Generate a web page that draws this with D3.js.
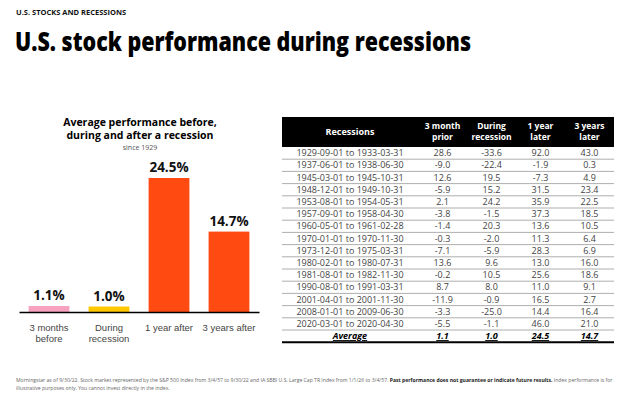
<!DOCTYPE html>
<html>
<head>
  <meta charset="utf-8">
  <title>U.S. stock performance during recessions</title>
  <script src="https://d3js.org/d3.v7.min.js"></script>
  <style>
    body { margin: 0; background: #fff; }
    svg { display: block; font-family: "Open Sans", sans-serif; }
  </style>
</head>
<body>
<svg class="chart"></svg>
<script>

// ---- data ----
const barCategories = ["3 months|before", "During|recession", "1 year after", "3 years after"];
const barValues = [1.1, 1.0, 24.5, 14.7];
const barColors = ["#f7a3bf", "#ffc800", "#ff4a12", "#ff4a12"];

const recessions = [
  "1929-09-01 to 1933-03-31", "1937-06-01 to 1938-06-30", "1945-03-01 to 1945-10-31",
  "1948-12-01 to 1949-10-31", "1953-08-01 to 1954-05-31", "1957-09-01 to 1958-04-30",
  "1960-05-01 to 1961-02-28", "1970-01-01 to 1970-11-30", "1973-12-01 to 1975-03-31",
  "1980-02-01 to 1980-07-31", "1981-08-01 to 1982-11-30", "1990-08-01 to 1991-03-31",
  "2001-04-01 to 2001-11-30", "2008-01-01 to 2009-06-30", "2020-03-01 to 2020-04-30"
];
const prior3m = [28.6, -9.0, 12.6, -5.9, 2.1, -3.8, -1.4, -0.3, -7.1, 13.6, -0.2, 8.7, -11.9, -3.3, -5.5];
const during  = [-33.6, -22.4, 19.5, 15.2, 24.2, -1.5, 20.3, -2.0, -5.9, 9.6, 10.5, 8.0, -0.9, -25.0, -1.1];
const after1y = [92.0, -1.9, -7.3, 31.5, 35.9, 37.3, 13.6, 11.3, 28.3, 13.0, 25.6, 11.0, 16.5, 14.4, 46.0];
const after3y = [43.0, 0.3, 4.9, 23.4, 22.5, 18.5, 10.5, 6.4, 6.9, 16.0, 18.6, 9.1, 2.7, 16.4, 21.0];
const averages = [1.1, 1.0, 24.5, 14.7];
const tableHeaders = ["3 month|prior", "During|recession", "1 year|later", "3 years|later"];

const footnote1 = "Morningstar as of 9/30/22. Stock market represented by the S&P 500 Index from 3/4/57 to 9/30/22 and IA SBBI U.S. Large Cap TR Index from 1/1/26 to 3/4/57. ";
const footnoteBold = "Past performance does not guarantee or indicate future results.";
const footnote2 = " Index performance is for";
const footnote3 = "illustrative purposes only. You cannot invest directly in the index.";

const W = 624, H = 397;
const svg = d3.select(".chart").attr("width", W).attr("height", H);

// ---- headings ----
svg.append("text").attr("x", 16).attr("y", 15)
  .style("font-size", "7.5px").style("font-weight", 700).attr("fill", "#111")
  .text("U.S. STOCKS AND RECESSIONS");

svg.append("text").attr("x", 15).attr("y", 51)
  .style("font-size", "27px").style("font-weight", 800).attr("fill", "#000")
  .attr("textLength", 456).attr("lengthAdjust", "spacingAndGlyphs")
  .text("U.S. stock performance during recessions");

// ---- bar chart ----
const x = d3.scaleBand().domain(barCategories).range([19, 259]).paddingInner(0.32).paddingOuter(0.16);
const y = d3.scaleLinear().domain([0, 24.5]).range([312, 178]);

const bc = svg.append("g");
bc.append("text").attr("x", 140).attr("y", 126).attr("text-anchor", "middle")
  .style("font-size", "10.5px").style("font-weight", 700).text("Average performance before,");
bc.append("text").attr("x", 140).attr("y", 139).attr("text-anchor", "middle")
  .style("font-size", "10.5px").style("font-weight", 700).text("during and after a recession");
bc.append("text").attr("x", 140).attr("y", 150).attr("text-anchor", "middle")
  .style("font-size", "7px").attr("fill", "#555").text("since 1929");

bc.selectAll("rect.bar").data(barValues).join("rect")
  .attr("class", "bar")
  .attr("x", (d, i) => x(barCategories[i]))
  .attr("y", d => y(d))
  .attr("width", x.bandwidth())
  .attr("height", d => y(0) - y(d))
  .attr("fill", (d, i) => barColors[i]);

bc.selectAll("text.val").data(barValues).join("text")
  .attr("class", "val")
  .attr("x", (d, i) => x(barCategories[i]) + x.bandwidth() / 2)
  .attr("y", d => y(d) - 6)
  .attr("text-anchor", "middle")
  .style("font-size", "13.5px").style("font-weight", 700).attr("fill", "#111")
  .text(d => d.toFixed(1) + "%");

const xAxis = bc.append("g").attr("transform", `translate(0,${y(0)})`)
  .call(d3.axisBottom(x).tickSize(0).tickFormat(""));
xAxis.select(".domain").attr("stroke", "#000").attr("stroke-width", 1.5);
xAxis.selectAll(".tick text").remove();
xAxis.selectAll(".tick").append("text")
  .attr("fill", "#444").style("font-size", "9.5px").attr("text-anchor", "middle")
  .each(function(d) {
    const lines = d.split("|");
    lines.forEach((l, j) => d3.select(this).append("tspan").attr("x", 0).attr("y", 19 + j * 11).text(l));
  });

// ---- table ----
const tLeft = 282, tRight = 614, numLeft = 418;
const col = d3.scaleBand().domain(d3.range(4)).range([numLeft, tRight]);
const recX = (tLeft + numLeft) / 2;
const rowsTop = 147;
const row = d3.scaleBand().domain(d3.range(recessions.length + 1)).range([rowsTop, rowsTop + 12.2 * 16]);

const tb = svg.append("g").style("font-size", "9px");
tb.append("rect").attr("x", tLeft).attr("y", 117).attr("width", tRight - tLeft).attr("height", rowsTop - 117)
  .attr("fill", "#000");
tb.append("text").attr("x", recX).attr("y", 135).attr("text-anchor", "middle")
  .attr("fill", "#fff").style("font-weight", 700).text("Recessions");
tableHeaders.forEach((h, i) => {
  h.split("|").forEach((l, j) => {
    tb.append("text").attr("x", col(i) + col.bandwidth() / 2).attr("y", 129 + j * 11)
      .attr("text-anchor", "middle").attr("fill", "#fff")
      .style("font-weight", 700).style("font-size", "8.5px").text(l);
  });
});

const columns = [prior3m, during, after1y, after3y];
recessions.forEach((r, i) => {
  const cy = row(i) + row.bandwidth() / 2 + 3;
  tb.append("text").attr("x", recX).attr("y", cy).attr("text-anchor", "middle").attr("fill", "#444").text(r);
  columns.forEach((c, k) => {
    tb.append("text").attr("x", col(k) + col.bandwidth() / 2).attr("y", cy)
      .attr("text-anchor", "middle").attr("fill", "#444").text(c[i].toFixed(1));
  });
  tb.append("line").attr("x1", tLeft).attr("x2", tRight)
    .attr("y1", row(i) + row.bandwidth()).attr("y2", row(i) + row.bandwidth())
    .attr("stroke", "#999").attr("stroke-width", 0.8);
});

const ai = recessions.length;
const ay = row(ai) + row.bandwidth() / 2 + 3;
tb.append("text").attr("x", recX).attr("y", ay).attr("text-anchor", "middle")
  .style("font-weight", 700).style("font-style", "italic").style("text-decoration", "underline").text("Average");
averages.forEach((v, k) => {
  tb.append("text").attr("x", col(k) + col.bandwidth() / 2).attr("y", ay).attr("text-anchor", "middle")
    .style("font-weight", 700).style("font-style", "italic").style("text-decoration", "underline").text(v.toFixed(1));
});
tb.append("line").attr("x1", tLeft).attr("x2", tRight)
  .attr("y1", row(ai) + row.bandwidth()).attr("y2", row(ai) + row.bandwidth())
  .attr("stroke", "#000").attr("stroke-width", 2);

// ---- footnote ----
const fn = svg.append("g").style("font-size", "5.1px").attr("fill", "#666");
const t1 = fn.append("text").attr("x", 16).attr("y", 382);
t1.append("tspan").text(footnote1);
t1.append("tspan").style("font-weight", 700).attr("fill", "#222").text(footnoteBold);
t1.append("tspan").text(footnote2);
fn.append("text").attr("x", 16).attr("y", 390).text(footnote3);

</script>
</body>
</html>
